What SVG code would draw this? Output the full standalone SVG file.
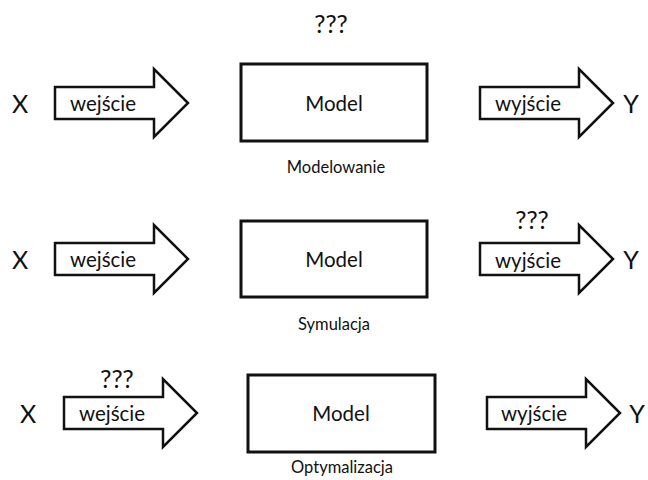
<svg xmlns="http://www.w3.org/2000/svg" width="648" height="480" viewBox="0 0 648 480">
<style>
text{font-family:Lato,"Open Sans","Liberation Sans",sans-serif;fill:#111;text-anchor:middle;dominant-baseline:central}
.big{font-size:25px}
.mid{font-size:20.5px}
.sm{font-size:16.5px}
.box{fill:#fff;stroke:#111;stroke-width:3}
.arr{fill:#fff;stroke:#111;stroke-width:2.5;stroke-linejoin:miter}
</style>
<defs>
<path id="arrow" d="M0,-16 H99 V-34 L133,0 L99,34 V16 H0 Z"/>
</defs>
<rect width="648" height="480" fill="#fff"/>
<g id="row1">
<text class="big" x="331" y="23">???</text>
<g id="x1"><text class="big" x="20" y="103">X</text></g>
<g id="in1"><use href="#arrow" class="arr" x="55" y="103"/><text class="mid" x="103" y="103">wejście</text></g>
<g id="model1"><rect class="box" x="241" y="64" width="186" height="77"/><text class="mid" x="334" y="103">Model</text></g>
<text class="sm" x="336" y="167">Modelowanie</text>
<g id="out1"><use href="#arrow" class="arr" x="480" y="103"/><text class="mid" x="528" y="103">wyjście</text></g>
<g id="y1"><text class="big" x="631" y="103">Y</text></g>
</g>
<g id="row2">
<g id="x2"><text class="big" x="20" y="259">X</text></g>
<g id="in2"><use href="#arrow" class="arr" x="55" y="259"/><text class="mid" x="103" y="259">wejście</text></g>
<g id="model2"><rect class="box" x="241" y="221" width="186" height="76"/><text class="mid" x="334" y="259">Model</text></g>
<text class="sm" x="334" y="324">Symulacja</text>
<text class="big" x="532" y="219">???</text>
<g id="out2"><use href="#arrow" class="arr" x="480" y="259"/><text class="mid" x="528" y="260">wyjście</text></g>
<g id="y2"><text class="big" x="631" y="259">Y</text></g>
</g>
<g id="row3">
<g id="x3"><text class="big" x="28" y="413">X</text></g>
<text class="big" x="117" y="378">???</text>
<g id="in3"><use href="#arrow" class="arr" x="64" y="413"/><text class="mid" x="112" y="413">wejście</text></g>
<g id="model3"><rect class="box" x="248" y="375" width="187" height="77"/><text class="mid" x="341" y="413">Model</text></g>
<text class="sm" x="342" y="467">Optymalizacja</text>
<g id="out3"><use href="#arrow" class="arr" x="487" y="413"/><text class="mid" x="534" y="413">wyjście</text></g>
<g id="y3"><text class="big" x="637" y="413">Y</text></g>
</g>
</svg>
